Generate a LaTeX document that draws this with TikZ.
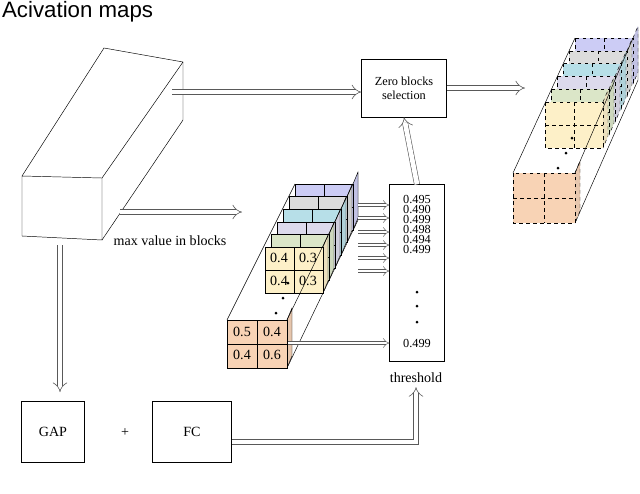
\documentclass[tikz,border=0pt]{standalone}
\usepackage{fontspec}
\setmainfont{Liberation Serif}
\newfontfamily\titlefont{Liberation Sans}
\usetikzlibrary{arrows.meta}

\definecolor{lpurple}{HTML}{CCCCF5}
\definecolor{lgray}{HTML}{DCDCDC}
\definecolor{lblue}{HTML}{B7DFE8}
\definecolor{llav}{HTML}{DCDAEC}
\definecolor{lgreen}{HTML}{DBE6C8}
\definecolor{lyellow}{HTML}{FDF0C8}
\definecolor{lorange}{HTML}{F8D3B5}

\tikzset{
  box/.style={draw, thin, fill=white, align=center, inner sep=0pt},
  hollow/.style={draw=gray!70!black, double=white, double distance=4pt, line width=0.5pt, -{Implies}},
  thinhollow/.style={draw=gray!70!black, double=white, double distance=2.5pt, line width=0.4pt, -{Implies}},
  frame/.style={draw, thin},
  txt/.style={font=\fontsize{12}{12}\selectfont},
}

% one slice: x, y, width, height, colour, line style
\newcommand{\slice}[6]{
  \fill[#5!85!gray] (#1+#3,#2) -- (#1+#3+5,#2-12) -- (#1+#3+5,#2+#4-12) -- (#1+#3,#2+#4) -- cycle;
  \draw[thin,#6] (#1+#3,#2) -- (#1+#3+5,#2-12) -- (#1+#3+5,#2+#4-12) -- (#1+#3,#2+#4);
  \filldraw[fill=#5, thin, #6] (#1,#2) rectangle (#1+#3,#2+#4);
  \draw[thin,#6] (#1+#3/2,#2) -- (#1+#3/2,#2+#4) (#1,#2+#4/2) -- (#1+#3,#2+#4/2);
}

\begin{document}
\begin{tikzpicture}[x=0.03cm, y=-0.03cm]
  \useasboundingbox (0,0) rectangle (640,493);

  \node[anchor=west, font=\titlefont\fontsize{19}{19}\selectfont] (title) at (-2,12) {Acivation maps};

  % activation cuboid
  \draw[thin] (22,176) -- (102,178) -- (102,240) -- (22,236) -- cycle;
  \draw[thin] (22,176) -- (104,48) -- (183,62) -- (102,178);
  \draw[thin] (183,62) -- (183,120) -- (102,240);
  \coordinate (cubeR) at (172,92);
  \coordinate (cubeM) at (120,212);
  \coordinate (cubeB) at (60,245);

  \node[box, minimum width=85*0.03cm, minimum height=58*0.03cm, font=\fontsize{10.5}{12}\selectfont] (zero) at (404,88) {Zero blocks\\selection};
  \node[box, minimum width=55*0.03cm, minimum height=177*0.03cm] (thr) at (417,273) {};
  \node[txt] (thrlab) at (416,378) {threshold};
  \node[box, minimum width=63*0.03cm, minimum height=61*0.03cm, txt] (gap) at (53,432) {GAP};
  \node[box, minimum width=79*0.03cm, minimum height=61*0.03cm, txt] (fc) at (192,432) {FC};
  \node[txt] (plus) at (125,433) {+};
  \node[txt] (maxlab) at (170,241) {max value in blocks};

  % threshold values
  \foreach \v/\yy in {0.495/199, 0.490/209, 0.499/219, 0.498/229, 0.494/239, 0.499/249, 0.499/343}
    \node[font=\fontsize{10.5}{10.5}\selectfont, inner sep=0pt] at (417,\yy) {\v};
  \foreach \yy in {292,306,322}
    \fill (417,\yy) circle (1.5);

  % middle stack
  \draw[frame] (227,320) -- (295,184) (358,172) -- (358,220) -- (287,368);
  \foreach \i/\c in {0/lpurple,1/lgray,2/lblue,3/llav,4/lgreen,5/lyellow}
    \slice{295-6*\i}{184+12.6*\i}{58}{46}{\c}{solid};
  \slice{227}{320}{60}{48}{lorange}{solid}
  \draw[frame] (287,320) -- (353,184);
  \foreach \t/\px/\py in {0.4/279/258, 0.3/308/258, 0.4/279/281, 0.3/308/281, 0.5/242/332, 0.4/272/332, 0.4/242/355, 0.6/272/355}
    \node[font=\fontsize{12}{12}\selectfont, inner sep=0pt] at (\px,\py) {\t};
  \foreach \px/\py in {288/283, 283/298, 276/313}
    \fill (\px,\py) circle (1.5);

  % right stack
  \draw[frame] (513,173) -- (575,38) (638,30) -- (638,80) -- (575,223);
  \foreach \i/\c in {0/lpurple,1/lgray,2/lblue,3/llav,4/lgreen,5/lyellow}
    \slice{575-6*\i}{38+12.8*\i}{58}{46}{\c}{dashed};
  \slice{513}{173}{62}{50}{lorange}{dashed}
  \draw[frame] (575,173) -- (633,38);
  \foreach \px/\py in {572/138, 566/153, 558/168}
    \fill (\px,\py) circle (1.5);

  % arrows
  \draw[hollow] (cubeR) -- (zero.west |- cubeR);
  \draw[hollow] (cubeM) -- (242,212);
  \draw[hollow] (zero.east) -- (zero.east -| 525,0);
  \draw[hollow] (thr.north) -- (zero.south);
  \draw[hollow] (cubeB) -- (60,392);
  \draw[hollow] (fc.east |- 0,442) -- (416,442) -- (thrlab.south);
  \foreach \yy in {205,218,232,245,258,271}
    \draw[thinhollow] (358,\yy) -- (thr.west |- 0,\yy);
  \draw[thinhollow] (288,343) -- (thr.west |- 0,343);
\end{tikzpicture}
\end{document}
